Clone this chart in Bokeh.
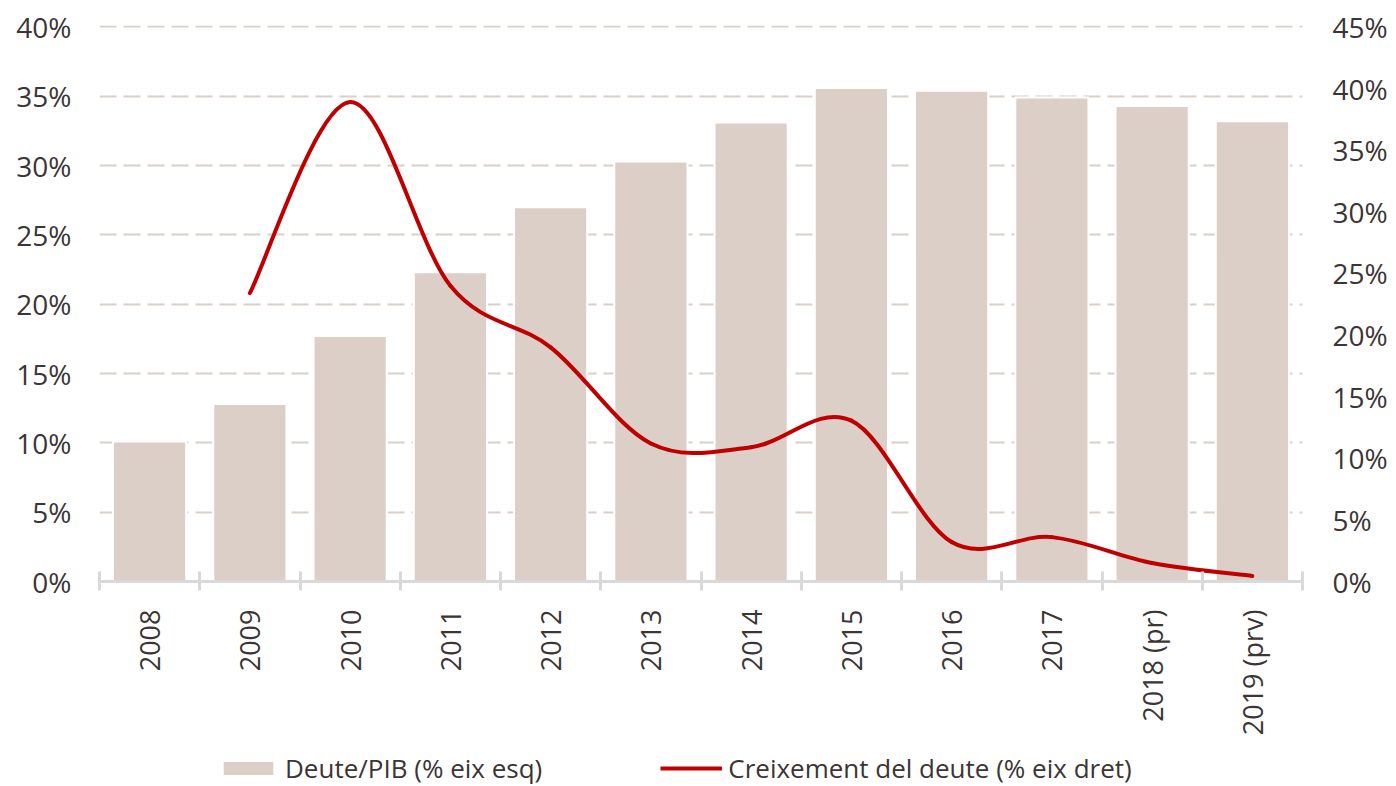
import math
from bokeh.plotting import figure
from bokeh.layouts import column
from bokeh.models import (Range1d, LinearAxis, FixedTicker, PrintfTickFormatter,
                          Legend, LegendItem, ColumnDataSource)
from bokeh.embed import file_html
from bokeh.resources import INLINE

# ---------------- data ----------------
categories = ["2008", "2009", "2010", "2011", "2012", "2013", "2014",
              "2015", "2016", "2017", "2018 (pr)", "2019 (prv)"]
debt_gdp = [10.1, 12.8, 17.7, 22.3, 27.0, 30.3, 33.1, 35.6, 35.4, 34.9, 34.3, 33.2]
growth_categories = categories[1:]
debt_growth = [23.4, 38.9, 24.0, 19.0, 11.2, 10.9, 13.05, 3.2, 3.6, 1.5, 0.45]
left_ticks = [0, 5, 10, 15, 20, 25, 30, 35, 40]
right_ticks = [0, 5, 10, 15, 20, 25, 30, 35, 40, 45]
bar_label = "Deute/PIB (% eix esq)"
line_label = "Creixement del deute (% eix dret)"

# ---------------- style ----------------
FONT = "Open Sans"
TEXT = "#3b3535"
BAR = "#dccfc7"
RED = "#c00000"
AXIS = "#d9d9d9"
GRID = "#dccfc7"
W = 1390

idx = list(range(len(categories)))
pos = {c: i for i, c in enumerate(categories)}

# small headroom so the top dashed gridline is not clipped by the frame
LEFT_MAX = left_ticks[-1] * 1.0025
RIGHT_MAX = right_ticks[-1] * 1.0025

p = figure(width=W, height=745, output_backend="svg", toolbar_location=None,
           x_range=Range1d(-0.5, len(categories) - 0.5), y_range=Range1d(0, LEFT_MAX),
           min_border_left=99, min_border_right=85, min_border_top=25,
           min_border_bottom=164)
p.outline_line_color = None
p.background_fill_color = "white"
p.border_fill_color = "white"
p.extra_y_ranges = {"right": Range1d(0, RIGHT_MAX)}

# bars
bars = p.vbar(x=idx, top=debt_gdp, width=0.73, bottom=0,
              fill_color=BAR, line_color="white", line_width=2)

# smoothed line (Catmull-Rom style cubic Bezier through the data points)
gx = [pos[c] for c in growth_categories]
gy = debt_growth
n = len(gx)
seg = dict(x0=[], y0=[], x1=[], y1=[], cx0=[], cy0=[], cx1=[], cy1=[])
for i in range(n - 1):
    im1 = max(i - 1, 0)
    ip2 = min(i + 2, n - 1)
    seg["x0"].append(gx[i]); seg["y0"].append(gy[i])
    seg["x1"].append(gx[i + 1]); seg["y1"].append(gy[i + 1])
    seg["cx0"].append(gx[i] + (gx[i + 1] - gx[im1]) / 6)
    seg["cy0"].append(gy[i] + (gy[i + 1] - gy[im1]) / 6)
    seg["cx1"].append(gx[i + 1] - (gx[ip2] - gx[i]) / 6)
    seg["cy1"].append(gy[i + 1] - (gy[ip2] - gy[i]) / 6)
curve = p.bezier(x0="x0", y0="y0", x1="x1", y1="y1", cx0="cx0", cy0="cy0",
                 cx1="cx1", cy1="cy1", source=ColumnDataSource(seg),
                 y_range_name="right", line_color=RED, line_width=4,
                 line_cap="round")

# x axis
xa = p.xaxis[0]
xa.ticker = FixedTicker(ticks=idx, minor_ticks=[i - 0.5 for i in range(len(categories) + 1)])
xa.major_label_overrides = {i: c for i, c in enumerate(categories)}
xa.major_label_orientation = math.pi / 2
xa.major_tick_line_color = None
xa.major_tick_in = 0
xa.major_tick_out = 0
xa.minor_tick_line_color = AXIS
xa.minor_tick_line_width = 3
xa.minor_tick_in = 10
xa.minor_tick_out = 9
xa.axis_line_color = AXIS
xa.axis_line_width = 3
xa.major_label_standoff = 19
xa.major_label_text_font = FONT
xa.major_label_text_font_size = "27px"
xa.major_label_text_color = TEXT

# left axis
ya = p.yaxis[0]
ya.ticker = FixedTicker(ticks=left_ticks)
ya.formatter = PrintfTickFormatter(format="%d%%")
ya.axis_line_color = None
ya.major_tick_line_color = None
ya.minor_tick_line_color = None
ya.major_tick_in = 0
ya.major_tick_out = 0
ya.major_label_standoff = 28
ya.major_label_text_font = FONT
ya.major_label_text_font_size = "28px"
ya.major_label_text_color = TEXT

# right axis
ra = LinearAxis(y_range_name="right", ticker=FixedTicker(ticks=right_ticks),
                formatter=PrintfTickFormatter(format="%d%%"))
ra.axis_line_color = None
ra.major_tick_line_color = None
ra.minor_tick_line_color = None
ra.major_tick_in = 0
ra.major_tick_out = 0
ra.major_label_standoff = 30
ra.major_label_text_font = FONT
ra.major_label_text_font_size = "28px"
ra.major_label_text_color = TEXT
p.add_layout(ra, "right")

# grid
p.xgrid.grid_line_color = None
p.ygrid.grid_line_color = GRID
p.ygrid.grid_line_width = 2
p.ygrid.grid_line_dash = "17 7"

# legend strip (separate figure below the chart; its frame aligns with the chart's)
lg = figure(width=W, height=41, output_backend="svg", toolbar_location=None,
            x_range=Range1d(0, 1), y_range=Range1d(0, 1),
            x_axis_location=None, y_axis_location=None, min_border=0)
lg.outline_line_color = None
lg.xgrid.grid_line_color = None
lg.ygrid.grid_line_color = None
nan = float("nan")
lg_bar = lg.vbar(x=[nan], top=[nan], width=0.5, fill_color=BAR, line_color=None)
lg_line = lg.line(x=[nan], y=[nan], line_color=RED, line_width=4)
legend = Legend(items=[LegendItem(label=bar_label, renderers=[lg_bar]),
                       LegendItem(label=line_label, renderers=[lg_line])],
                location=(118, 0), orientation="horizontal",
                glyph_width=62, glyph_height=16, label_standoff=6, spacing=118,
                padding=0, margin=0, border_line_color=None,
                background_fill_alpha=0, label_text_font=FONT,
                label_text_font_size="26px", label_text_color=TEXT,
                label_height=24)
lg.add_layout(legend)

layout = column(p, lg, spacing=0)
open("out.html", "w").write(file_html(layout, INLINE))
